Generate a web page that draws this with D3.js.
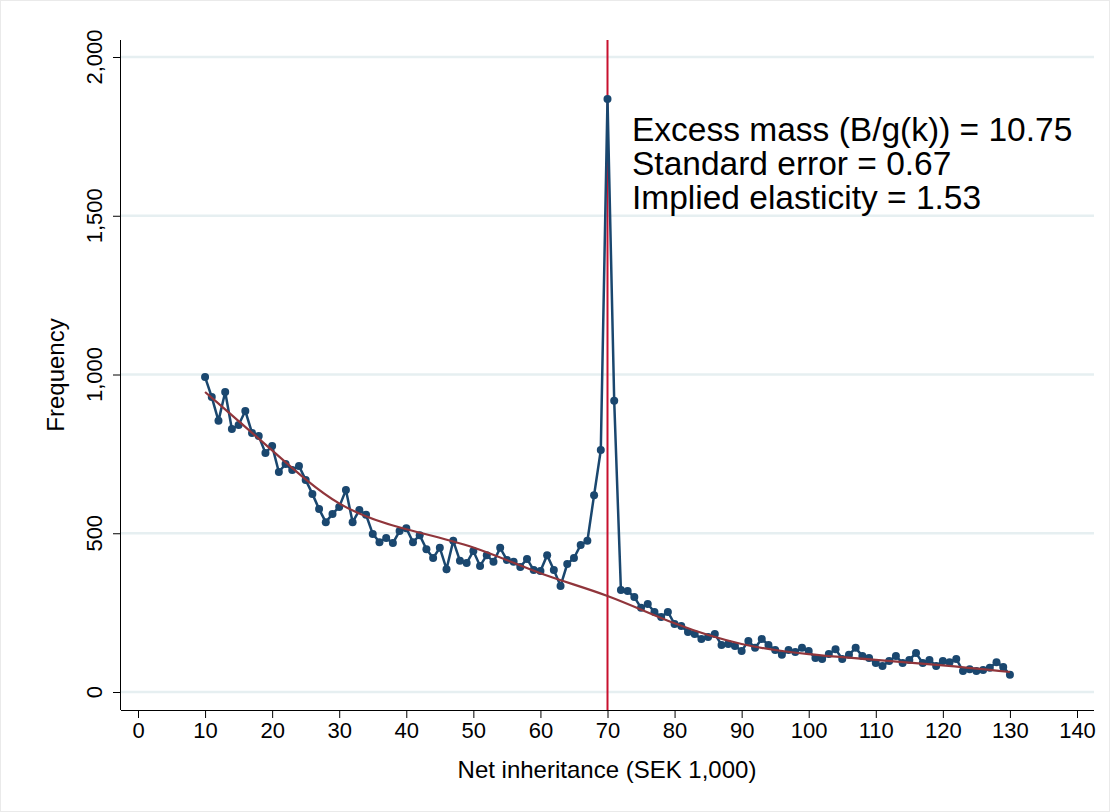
<!DOCTYPE html>
<html><head><meta charset="utf-8">
<script src="https://cdn.jsdelivr.net/npm/d3@7"></script>
<style>body{margin:0;background:#fff}svg{font-family:"Liberation Sans",Arial,sans-serif}</style>
</head><body><svg id="c" width="1110" height="812"></svg>
<script>
const xs = d3.range(10, 131);
const freq = [992,929,854,945,828,841,885,816,806,753,775,693,718,699,712,668,624,576,535,561,
583,636,535,573,558,498,472,485,469,507,516,472,494,450,422,454,387,476,413,406,
444,397,431,410,454,416,410,394,419,384,381,431,384,334,403,422,463,476,620,762,
1868,917,321,318,299,265,277,252,236,252,214,208,189,183,167,173,183,148,151,145,
129,161,139,167,148,132,117,132,126,139,129,107,104,120,135,104,117,139,113,107,
91,82,98,113,91,101,123,91,101,82,98,94,104,66,72,66,69,76,94,79,54];
const fitX = [10,20,30,40,50,60,70,80,90,100,110,120,130];
const fitY = [945,762,573,510,463,368,309,211,145,117,101,85,63];
const xTicks = d3.range(0, 141, 10);
const yTicks = [0,500,1000,1500,2000];
const notch = 70;
const notes = ["Excess mass (B/g(k)) = 10.75","Standard error = 0.67","Implied elasticity = 1.53"];

const svg = d3.select("#c");
svg.append("rect").attr("x",0.5).attr("y",0.5).attr("width",1109).attr("height",811).attr("fill","#fff").attr("stroke","#eaeaea");
const x = d3.scaleLinear().domain([0,140]).range([138,1077]);
const y = d3.scaleLinear().domain([0,2000]).range([692,57]);
const L=121, B=710, T=40, R=1094;

svg.append("g").selectAll("line").data(yTicks).join("line")
  .attr("x1",L).attr("x2",R).attr("y1",y).attr("y2",y).attr("stroke","#e6eff1").attr("stroke-width",2.5);

const ax = svg.append("g").attr("transform",`translate(0,${B})`)
  .call(d3.axisBottom(x).tickValues(xTicks).tickSize(8).tickSizeOuter(0));
ax.select(".domain").attr("d",`M${L},0.5H${R}`);
ax.selectAll("text").attr("font-size",22).attr("dy","0.75em").attr("fill","#000");
const ay = svg.append("g").attr("transform",`translate(${L},0)`)
  .call(d3.axisLeft(y).tickValues(yTicks).tickSize(8).tickSizeOuter(0).tickFormat(d3.format(",")));
ay.select(".domain").attr("d",`M-0.5,${T}V${B}`);
ay.selectAll("text").attr("font-size",22).attr("fill","#000")
  .attr("transform",d=>`translate(-19,${y(d)}) rotate(-90)`).attr("x",0).attr("y",0).attr("dy",0)
  .attr("text-anchor","middle");
ay.selectAll(".tick").attr("transform",null);
ay.selectAll(".tick line").attr("y1",d=>y(d)+0.5).attr("y2",d=>y(d)+0.5);

svg.append("text").attr("x",607).attr("y",778).attr("text-anchor","middle").attr("font-size",24).text("Net inheritance (SEK 1,000)");
svg.append("text").attr("transform","translate(64,375) rotate(-90)").attr("text-anchor","middle").attr("font-size",24).text("Frequency");

svg.append("line").attr("x1",x(notch)).attr("x2",x(notch)).attr("y1",T).attr("y2",B).attr("stroke","#c8102e").attr("stroke-width",2);

const pts = xs.map((v,i)=>[v,freq[i]]);
svg.append("path").datum(pts).attr("fill","none").attr("stroke","#1a476f").attr("stroke-width",2.5)
  .attr("d",d3.line().x(d=>x(d[0])).y(d=>y(d[1])));
svg.append("g").selectAll("circle").data(pts).join("circle")
  .attr("cx",d=>x(d[0])).attr("cy",d=>y(d[1])).attr("r",4).attr("fill","#1a476f");
svg.append("path").datum(fitX.map((v,i)=>[v,fitY[i]])).attr("fill","none").attr("stroke","#90353b").attr("stroke-width",2.2)
  .attr("d",d3.line().curve(d3.curveBasis).x(d=>x(d[0])).y(d=>y(d[1])));

svg.append("g").selectAll("text").data(notes).join("text")
  .attr("x",632).attr("y",(d,i)=>141+i*34).attr("font-size",33.5).text(d=>d);
</script></body></html>
